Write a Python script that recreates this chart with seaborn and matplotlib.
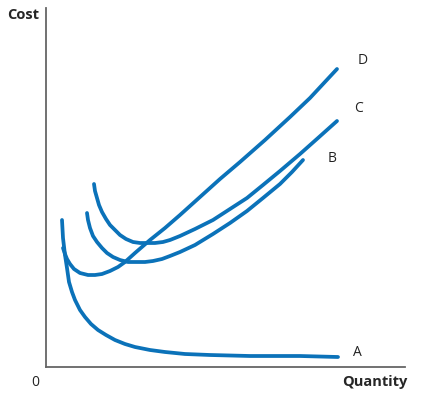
import pandas as pd
import matplotlib
matplotlib.use("Agg")
import matplotlib.pyplot as plt
import seaborn as sns

# curve points (quantity, cost)
a_q = [16, 17, 19, 21, 23, 26, 29, 34, 39, 45, 52, 60, 69, 79, 89, 104, 119,
       139, 164, 204, 254, 292]
a_c = [147, 129, 112, 99, 85, 75, 67, 57, 50, 43, 37, 32, 27, 23, 20, 17, 15,
       13, 12, 11, 11, 10]

b_q = [41, 42, 44, 47, 51, 56, 61, 67, 74, 82, 91, 99, 107, 116, 124, 134,
       149, 167, 184, 201, 217, 234, 246, 257]
b_c = [154, 147, 139, 131, 125, 119, 114, 110, 107, 105, 105, 105, 106, 108,
       111, 115, 122, 133, 144, 156, 169, 183, 195, 207]

c_q = [48, 49, 51, 53, 56, 60, 64, 69, 74, 80, 87, 94, 101, 109, 117, 124,
       134, 149, 167, 184, 201, 217, 234, 254, 272, 291]
c_c = [183, 176, 169, 162, 155, 148, 142, 137, 132, 128, 125, 124, 124, 124,
       125, 127, 131, 138, 147, 158, 169, 182, 196, 213, 229, 246]

d_q = [17, 19, 21, 24, 28, 34, 42, 49, 56, 64, 72, 79, 89, 104, 119, 134, 154,
       174, 194, 219, 244, 264, 291]
d_c = [119, 113, 108, 103, 98, 94, 92, 92, 93, 96, 100, 105, 114, 127, 139,
       152, 170, 188, 205, 227, 250, 269, 298]

labels = ["A", "B", "C", "D"]
label_pos = [(307, 14), (282, 209), (308, 258), (312, 306)]

sns.set_style("white")
plt.rcParams["font.family"] = ["Open Sans", "DejaVu Sans"]

fig = plt.figure(figsize=(4.33, 3.95), dpi=100)
ax = fig.add_axes([46 / 433, 28 / 395, 359 / 433, 359 / 395])

blue = "#0b72b9"
for q, c in [(a_q, a_c), (b_q, b_c), (c_q, c_c), (d_q, d_c)]:
    df = pd.DataFrame({"q": q, "c": c})
    sns.lineplot(data=df, x="q", y="c", ax=ax, color=blue, linewidth=2.7,
                 sort=False, estimator=None, solid_capstyle="round",
                 solid_joinstyle="round")

for lab, (x, y) in zip(labels, label_pos):
    ax.text(x, y, lab, fontsize=10, color="#222222", ha="left", va="center")

ax.set_xlim(0, 359)
ax.set_ylim(0, 359)
ax.set_xticks([])
ax.set_yticks([])
ax.set_xlabel("")
ax.set_ylabel("")
for s in ["top", "right"]:
    ax.spines[s].set_visible(False)
for s in ["left", "bottom"]:
    ax.spines[s].set_color("#666666")
    ax.spines[s].set_linewidth(1.3)

fig.text(23 / 433, 1 - 15 / 395, "Cost", fontsize=10.5, fontweight="bold",
         ha="center", va="center")
fig.text(375 / 433, 1 - 382 / 395, "Quantity", fontsize=10.5, fontweight="bold",
         ha="center", va="center")
fig.text(35 / 433, 1 - 382 / 395, "0", fontsize=10, ha="center", va="center",
         color="#222222")

fig.savefig("out.png", dpi=100)
